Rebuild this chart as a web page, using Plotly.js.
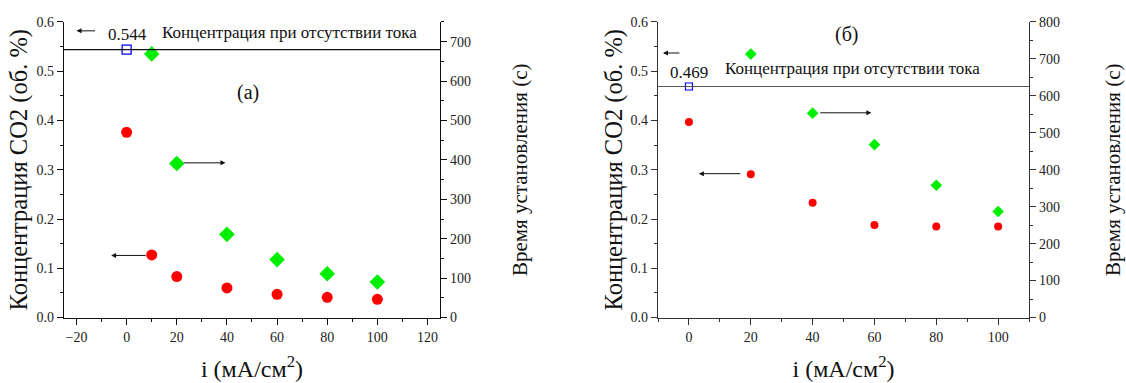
<!DOCTYPE html>
<html><head><meta charset="utf-8">
<script src="https://cdn.plot.ly/plotly-3.0.1.min.js"></script>
<style>body{margin:0;background:#fff}#c{width:1126px;height:383px}</style>
</head><body><div id="c"></div>
<script>
// Panel (a)
const xA_red = [0, 10, 20, 40, 60, 80, 100];
const yA_red = [0.376, 0.127, 0.083, 0.060, 0.047, 0.041, 0.037];
const xA_green = [10, 20, 40, 60, 80, 100];
const yA_green = [669, 391, 211, 147, 111, 90];
const xA_ref = [0];
const yA_ref = [0.544];
// Panel (б)
const xB_red = [0, 20, 40, 60, 80, 100];
const yB_red = [0.397, 0.291, 0.233, 0.188, 0.185, 0.185];
const xB_green = [20, 40, 60, 80, 100];
const yB_green = [713, 553, 468, 358, 287];
const xB_ref = [0];
const yB_ref = [0.469];

const leftTitle = 'Концентрация CO2 (об. %)';
const rightTitle = 'Время установления (с)';
const xTitle = 'i (мА/см<sup>2</sup>)';
const refLabel = 'Концентрация при отсутствии тока';

const F = 'Liberation Serif';
function tf() { return {family: F, size: 14, color: '#222'}; }
function ttf(s) { return {family: F, size: s, color: '#111'}; }

function xax(domain, range, anchor, col) {
  return {domain, range, anchor, showgrid: false, zeroline: false, showline: true, linecolor: col, linewidth: 1.2,
    ticks: 'outside', ticklen: 6, tickcolor: col, dtick: 20, tick0: 0, tickfont: tf(),
    minor: {ticks: 'outside', ticklen: 3, dtick: 10, tick0: 0, tickcolor: col, showgrid: false},
    title: {text: xTitle, font: ttf(24), standoff: 16}};
}
function yl(domain, anchor, col) {
  return {domain, range: [0, 0.6], anchor, showgrid: false, zeroline: false, showline: true, linecolor: col, linewidth: 1.2,
    ticks: 'outside', ticklen: 6, tickcolor: col, dtick: 0.1, tick0: 0, tickformat: '.1f', tickfont: tf(),
    minor: {ticks: 'outside', ticklen: 3, dtick: 0.05, tick0: 0, tickcolor: col, showgrid: false},
    title: {text: leftTitle, font: ttf(24.5), standoff: 1}};
}
function yr(overlay, anchor, range, col, standoff) {
  return {overlaying: overlay, side: 'right', anchor, range, showgrid: false, zeroline: false, showline: true, linecolor: col, linewidth: 1.2,
    ticks: 'outside', ticklen: 6, tickcolor: col, dtick: 100, tick0: 0, tickfont: tf(),
    minor: {ticks: 'outside', ticklen: 3, dtick: 50, tick0: 0, tickcolor: col, showgrid: false},
    title: {text: rightTitle, font: ttf(21), standoff}};
}

const yDom = [0.171, 0.9426];
const data = [
  {x: xA_red, y: yA_red, xaxis: 'x', yaxis: 'y', mode: 'markers', type: 'scatter', marker: {color: '#ff0000', size: 11, symbol: 'circle'}},
  {x: xA_green, y: yA_green, xaxis: 'x', yaxis: 'y2', mode: 'markers', type: 'scatter', marker: {color: '#00ee00', size: 12, symbol: 'diamond'}},
  {x: xA_ref, y: yA_ref, xaxis: 'x', yaxis: 'y', mode: 'markers', type: 'scatter', marker: {color: '#fff', size: 9, symbol: 'square', line: {color: '#0000ff', width: 1.3}}},
  {x: xB_red, y: yB_red, xaxis: 'x2', yaxis: 'y3', mode: 'markers', type: 'scatter', marker: {color: '#ff0000', size: 8, symbol: 'circle'}},
  {x: xB_green, y: yB_green, xaxis: 'x2', yaxis: 'y4', mode: 'markers', type: 'scatter', marker: {color: '#00ee00', size: 9, symbol: 'diamond'}},
  {x: xB_ref, y: yB_ref, xaxis: 'x2', yaxis: 'y3', mode: 'markers', type: 'scatter', marker: {color: '#fff', size: 7, symbol: 'square', line: {color: '#0000ff', width: 1.2}}}
];

function arrow(xr, yr_, x, y, ax, ay) {
  return {xref: xr, yref: yr_, axref: xr, ayref: yr_, x, y, ax, ay, text: '', showarrow: true,
    arrowhead: 2, arrowsize: 1, arrowwidth: 1, arrowcolor: '#111'};
}
function txt(xr, yr_, x, y, text, size) {
  return {xref: xr, yref: yr_, x, y, text, showarrow: false, font: {family: F, size, color: '#111'}};
}

const layout = {
  width: 1126, height: 383, margin: {l: 0, r: 0, t: 0, b: 0}, showlegend: false,
  paper_bgcolor: '#fff', plot_bgcolor: '#fff', font: {family: F, color: '#111'},
  xaxis: xax([0.0568, 0.3908], [-25, 125], 'y', '#111'),
  yaxis: yl(yDom, 'x', '#111'),
  yaxis2: yr('y', 'x', [0, 750], '#111', 42),
  xaxis2: xax([0.5844, 0.9139], [-10, 110], 'y3', '#333'),
  yaxis3: yl(yDom, 'x2', '#333'),
  yaxis4: yr('y3', 'x2', [0, 800], '#333', 46),
  shapes: [
    {type: 'line', xref: 'x domain', yref: 'y', x0: 0, x1: 1, y0: yA_ref[0], y1: yA_ref[0], line: {color: '#111', width: 1.2}},
    {type: 'line', xref: 'x2 domain', yref: 'y3', x0: 0, x1: 1, y0: yB_ref[0], y1: yB_ref[0], line: {color: '#555', width: 1.2}}
  ],
  annotations: [
    arrow('x', 'y', -20, 0.582, -12, 0.582),
    arrow('x', 'y', -6.2, 0.126, 8.2, 0.126),
    arrow('x', 'y', 39.4, 0.314, 22.2, 0.314),
    txt('x', 'y', 0.3, 0.575, String(yA_ref[0]), 17),
    txt('x', 'y', 48.6, 0.456, '(a)', 20),
    txt('x', 'y', 65, 0.578, refLabel, 17),
    arrow('x2', 'y3', -8.4, 0.537, -2.6, 0.537),
    arrow('x2', 'y3', 3.2, 0.292, 17.1, 0.292),
    arrow('x2', 'y3', 59, 0.4156, 42, 0.4156),
    txt('x2', 'y3', 0, 0.497, String(yB_ref[0]), 17),
    txt('x2', 'y3', 51, 0.574, '(б)', 20),
    txt('x2', 'y3', 53, 0.505, refLabel, 17)
  ]
};
Plotly.newPlot('c', data, layout, {displayModeBar: false, staticPlot: true});
</script></body></html>
